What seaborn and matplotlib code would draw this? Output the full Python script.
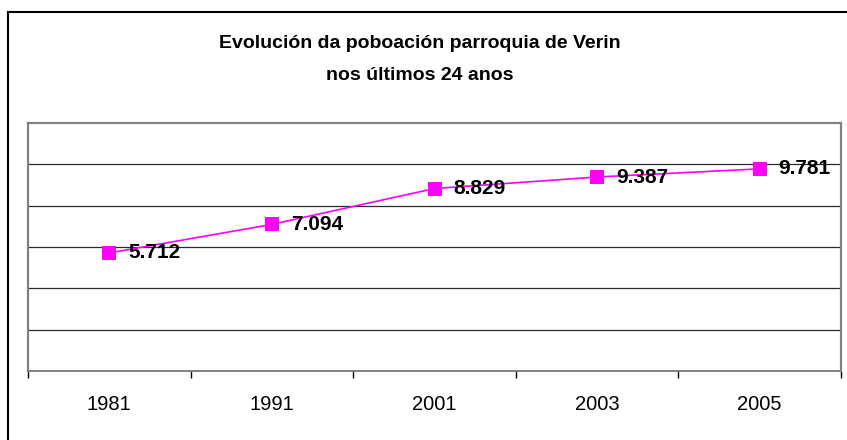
import matplotlib
matplotlib.use("Agg")
import matplotlib.pyplot as plt
import matplotlib.patches as patches
import numpy as np
import pandas as pd
import seaborn as sns

# Data
years = ["1981", "1991", "2001", "2003", "2005"]
population = [5712, 7094, 8829, 9387, 9781]
title_line1 = "Evolución da poboación parroquia de Verin"
title_line2 = "nos últimos 24 anos"

sns.set_style("white")
plt.rcParams["font.family"] = ["Liberation Sans", "DejaVu Sans"]
plt.rcParams["text.color"] = "black"
plt.rcParams["xtick.color"] = "black"
plt.rcParams["xtick.labelcolor"] = "black"

df = pd.DataFrame({"pos": np.arange(len(years)), "year": years, "pop": population})

fig = plt.figure(figsize=(8.47, 4.40), dpi=100)
ax = fig.add_axes([28 / 847, 1 - 371 / 440, (841 - 28) / 847, (371 - 123) / 440])

sns.lineplot(data=df, x="pos", y="pop", ax=ax, color="#FF00FF", linewidth=1.2,
             marker="s", markersize=10, markeredgewidth=0, zorder=5)

ax.set_xlim(-0.5, len(years) - 0.5)
ax.set_ylim(0, 12000)
ax.set_xlabel("")
ax.set_ylabel("")

# gridlines
ax.set_yticks(np.arange(0, 12001, 2000))
ax.set_yticklabels([])
ax.tick_params(axis="y", length=0, left=False)
for yv in np.arange(2000, 12000, 2000):
    ax.axhline(yv, color="#2a2a2a", linewidth=0.9, zorder=1)

# x ticks at category boundaries, labels at centres
ax.set_xticks(np.arange(-0.5, len(years), 1.0))
ax.set_xticklabels([])
ax.tick_params(axis="x", which="major", bottom=True, length=5, width=1,
               color="black", direction="out")
ax.set_xticks(np.arange(len(years)), minor=True)
ax.set_xticklabels(years, minor=True, fontsize=14.5, color="black")
ax.tick_params(axis="x", which="minor", bottom=True, length=0, pad=17)

for side in ["left", "top", "right"]:
    ax.spines[side].set_color("#808080")
    ax.spines[side].set_linewidth(1.6)
ax.spines["bottom"].set_color("#808080")
ax.spines["bottom"].set_linewidth(1.4)

# data labels
for p, v in zip(df["pos"], df["pop"]):
    lbl = f"{v:,}".replace(",", ".")
    ax.annotate(lbl, (p, v), xytext=(13.5, 0), textcoords="offset points",
                ha="left", va="center", fontsize=15, fontweight="bold",
                color="black", zorder=6)

# title
fig.text(420 / 847, 1 - 43 / 440, title_line1, ha="center", va="center",
         fontsize=14, fontweight="bold", color="black")
fig.text(420 / 847, 1 - 76 / 440, title_line2, ha="center", va="center",
         fontsize=14, fontweight="bold", color="black")

# outer chart frame
frame = patches.Rectangle((8 / 847, -0.1), 1.2, 1 - 12 / 440 + 0.1,
                          transform=fig.transFigure, fill=False,
                          edgecolor="black", linewidth=1.5, clip_on=False)
fig.patches.append(frame)

fig.savefig("out.png", dpi=100)
